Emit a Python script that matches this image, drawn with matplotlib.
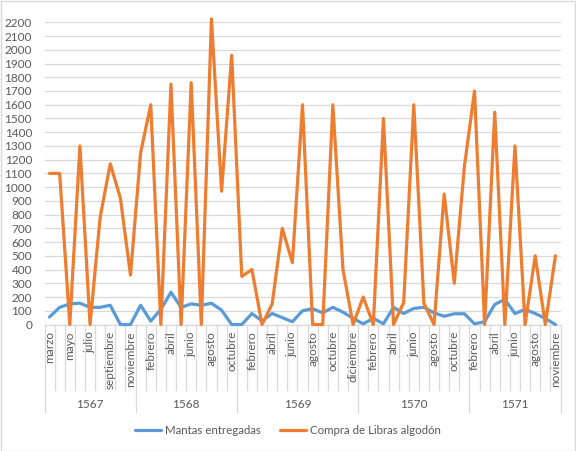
import matplotlib
matplotlib.use("Agg")
import matplotlib.pyplot as plt
from matplotlib.patches import Rectangle
import matplotlib.transforms as mtransforms

plt.rcParams['font.family'] = ['Lato', 'DejaVu Sans']

years = ["1567", "1568", "1569", "1570", "1571"]
months_by_year = [
    ["marzo", "abril", "mayo", "junio", "julio", "agosto", "septiembre", "octubre", "noviembre"],
    ["enero", "febrero", "marzo", "abril", "mayo", "junio", "julio", "agosto", "septiembre", "octubre"],
    ["enero", "febrero", "marzo", "abril", "mayo", "junio", "julio", "agosto", "septiembre", "octubre",
     "noviembre", "diciembre"],
    ["enero", "febrero", "marzo", "abril", "mayo", "junio", "julio", "agosto", "septiembre", "octubre",
     "noviembre"],
    ["febrero", "marzo", "abril", "mayo", "junio", "julio", "agosto", "septiembre", "noviembre"],
]

mantas = [55, 125, 150, 155, 125, 125, 140, 0, 0,
          140, 25, 110, 235, 125, 150, 140, 155, 105, 0,
          0, 80, 25, 80, 50, 20, 100, 115, 85, 125, 90, 45,
          5, 45, 5, 125, 80, 117, 125, 85, 60, 78, 78,
          5, 20, 146, 183, 80, 110, 80, 44, 0]
libras = [1100, 1100, 0, 1300, 0, 780, 1170, 920, 360,
          1250, 1600, 0, 1750, 0, 1760, 0, 2225, 970, 1960,
          350, 400, 0, 150, 700, 450, 1600, 0, 0, 1600, 400, 0,
          200, 0, 1500, 0, 160, 1600, 155, 0, 950, 300, 1150,
          1700, 0, 1545, 0, 1300, 0, 500, 0, 500]

series_names = ["Mantas entregadas", "Compra de Libras algodón"]

months = [m for ms in months_by_year for m in ms]
n = len(months)
x = list(range(n))

W, H = 576, 451
fig = plt.figure(figsize=(W / 100, H / 100), dpi=100)
fig.patches.append(Rectangle((0.5 / W, 0.5 / H), 1 - 1.5 / W, 1 - 1.5 / H, transform=fig.transFigure,
                             fill=False, edgecolor="#D9D9D9", linewidth=1.0))

left, right, top, bottom = 44.5, 560.5, 22.3, 324.5
ax = fig.add_axes([left / W, 1 - bottom / H, (right - left) / W, (bottom - top) / H])

blue = "#5B9BD5"
orange = "#ED7D31"
ax.plot(x, mantas, color=blue, lw=2.3, solid_joinstyle="round", solid_capstyle="round",
        label=series_names[0], zorder=3, clip_on=False)
ax.plot(x, libras, color=orange, lw=2.3, solid_joinstyle="round", solid_capstyle="round",
        label=series_names[1], zorder=4, clip_on=False)

ax.set_xlim(-0.5, n - 0.5)
ax.set_ylim(0, 2200)
ax.set_yticks(range(0, 2201, 100))
ax.grid(axis="y", color="#D9D9D9", lw=0.9)
ax.set_axisbelow(True)
for s in ["left", "right", "top"]:
    ax.spines[s].set_visible(False)
ax.spines["bottom"].set_color("#D9D9D9")
ax.spines["bottom"].set_linewidth(0.9)
ax.tick_params(axis="y", length=0, labelsize=8.5, labelcolor="#595959", pad=9)
ax.set_xticks([])

trans = mtransforms.blended_transform_factory(ax.transData, ax.transAxes)
ph = bottom - top
def yfrac(py):
    return (bottom - py) / ph

# month labels (every second category shown)
for i, m in enumerate(months):
    if i % 2 == 0:
        ax.text(i, yfrac(331), m, transform=trans, rotation=90, ha="center", va="top",
                fontsize=8.5, color="#595959")

# category boundary lines
boundaries = []
pos = 0
for ms in months_by_year:
    boundaries.append(pos)
    pos += len(ms)
boundaries.append(pos)
for b in range(n + 1):
    yb = yfrac(412) if b in boundaries else yfrac(390)
    ax.plot([b - 0.5, b - 0.5], [0, yb], transform=trans, color="#D9D9D9", lw=0.9, clip_on=False)

# year labels
for k, yr in enumerate(years):
    c = (boundaries[k] + boundaries[k + 1] - 1) / 2
    ax.text(c, yfrac(405), yr, transform=trans, ha="center", va="center", fontsize=8.5, color="#595959")

leg = fig.legend(loc="center", bbox_to_anchor=(0.5, 1 - 431 / H), ncol=2, frameon=False,
                 fontsize=8.3, handlelength=2.3, columnspacing=1.6, handletextpad=0.35)
for t in leg.get_texts():
    t.set_color("#595959")

fig.savefig("out.png", dpi=100)
